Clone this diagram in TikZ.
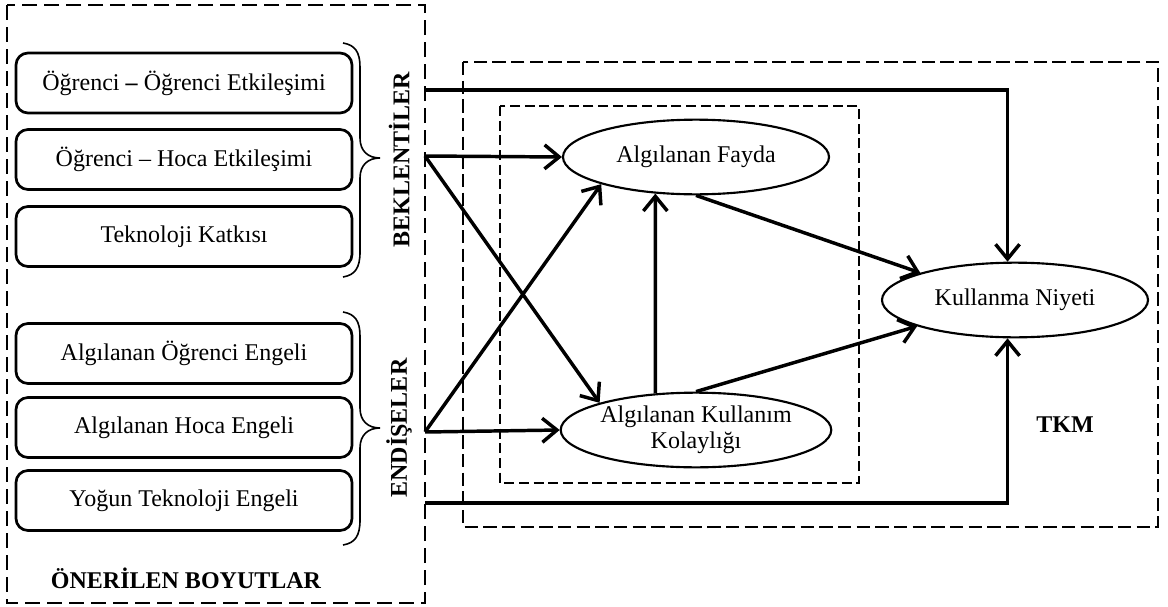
\documentclass[tikz,border=0pt]{standalone}
\usepackage{fontspec}
\setmainfont{Liberation Serif}
\usetikzlibrary{arrows.meta,shapes.geometric}
\begin{document}
\begin{tikzpicture}[x=0.75pt,y=-0.75pt,
  every node/.style={font=\fontsize{18}{19.5}\selectfont},
  dimbox/.style={draw,line width=2pt,rounded corners=9pt,minimum width=252pt,minimum height=45pt,inner sep=0pt},
  construct/.style={draw,ellipse,line width=1.6pt,minimum width=199.5pt,minimum height=56pt,inner sep=0pt,align=center},
  frameA/.style={line width=1.6pt,dash pattern=on 11pt off 5.5pt},
  frameB/.style={line width=1.2pt,dash pattern=on 10pt off 4pt},
  frameC/.style={line width=1.2pt,dash pattern=on 7.5pt off 3.5pt},
  grp/.style={line width=1.2pt},
  arr/.style={line width=2.6pt,-{Straight Barb[length=11pt,width=18pt]}},
  title/.style={font=\fontsize{18}{20}\selectfont\bfseries}]
\useasboundingbox (0,0) rectangle (1168,607);

% outer frames
\draw[frameA] (7,5) rectangle (425,603);
\draw[frameB] (463,62) rectangle (1158,527);
\draw[frameC] (500,106) rectangle (859,483);

% proposed dimensions
\node[dimbox] (d1) at (184,83) {Öğrenci \textbf{–} Öğrenci Etkileşimi};
\node[dimbox] (d2) at (184,159.5) {Öğrenci – Hoca Etkileşimi};
\node[dimbox] (d3) at (184,236.5) {Teknoloji Katkısı};
\node[dimbox] (d4) at (184,353.5) {Algılanan Öğrenci Engeli};
\node[dimbox] (d5) at (184,427.5) {Algılanan Hoca Engeli};
\node[dimbox] (d6) at (184,500.5) {Yoğun Teknoloji Engeli};

% group braces
\draw[grp] (343,43) .. controls (355,45) and (360,52) .. (360,67) -- (360,138)
  .. controls (360,151) and (368,158) .. (380,158)
  .. controls (368,158) and (360,165) .. (360,178) -- (360,252)
  .. controls (360,268) and (355,275) .. (343,277);
\draw[grp] (343,312) .. controls (355,314) and (360,321) .. (360,336) -- (360,408)
  .. controls (360,421) and (368,428) .. (380,428)
  .. controls (368,428) and (360,435) .. (360,448) -- (360,520)
  .. controls (360,536) and (355,543) .. (343,545);

\node[title,rotate=90] (bek) at (399,160) {BEKLENTİLER};
\node[title,rotate=90] (end) at (399,428) {ENDİŞELER};
\node[title] (oner) at (186,578) {ÖNERİLEN BOYUTLAR};
\node[title] (tkm) at (1065,425) {TKM};

% model constructs
\node[construct] (af) at (696,157) {Algılanan Fayda};
\node[construct] (akk) at (696,430) {Algılanan Kullanım\\Kolaylığı};
\node[construct] (kn) at (1015,300) {Kullanma Niyeti};

% connector origins on the frame
\coordinate (top) at (425,90);
\coordinate (bk) at (425,156);
\coordinate (en) at (425,432);
\coordinate (bot) at (425,503);

% connectors
\draw[arr] (top) -| (kn.101);
\draw[arr] (bot) -| (kn.259);
\draw[arr] (bk) -- (af.west);
\draw[arr] (bk) -- (akk.north west);
\draw[arr] (en) -- (akk.west);
\draw[arr] (en) -- (af.south west);
\draw[arr] (akk.138) -- (af.222);
\draw[arr] (af.south) -- (kn.164);
\draw[arr] (akk.north) -- (kn.195);
\end{tikzpicture}
\end{document}
